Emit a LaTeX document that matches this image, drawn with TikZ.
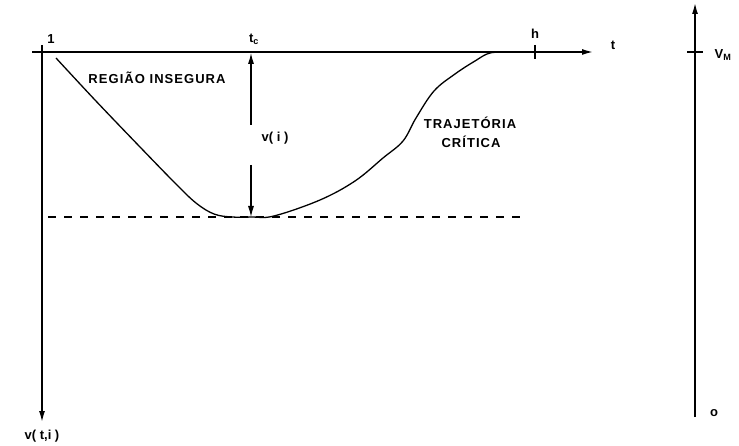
\documentclass[tikz,border=0pt]{standalone}
\usepackage{fontspec}
\setmainfont{Liberation Sans}
\newfontfamily\labfont[LetterSpace=8]{Liberation Sans}
\usetikzlibrary{arrows.meta}
\begin{document}
\begin{tikzpicture}[x=1pt,y=-1pt,
  line width=1.1pt,
  ax/.style={line width=1.4pt},
  tip/.style={-{Latex[length=11pt,width=6pt]}},
  lbl/.style={font=\labfont\fontsize{13}{14}\selectfont\bfseries, inner sep=0pt},
  sml/.style={font=\fontsize{13}{14}\selectfont\bfseries, inner sep=0pt}]
\useasboundingbox (0,0) rectangle (739,446);
% axes
\coordinate (hstart) at (32,52);
\coordinate (hend) at (593,52);
\coordinate (vstart) at (42,45);
\coordinate (vend) at (42,422);
\draw[ax,tip] (hstart) -- (hend);
\draw[ax,tip] (vstart) -- (vend);
% h tick
\coordinate (htop) at (535,45);
\coordinate (hbot) at (535,59);
\draw (htop) -- (hbot);
% right axis
\coordinate (rb) at (695,417);
\coordinate (rt) at (695,3);
\draw[ax,tip] (rb) -- (rt);
\coordinate (rtl) at (687,52);
\coordinate (rtr) at (703,52);
\draw (rtl) -- (rtr);
% dashed level
\coordinate (dl) at (48,217);
\coordinate (dr) at (525,217);
\draw[line width=1.3pt, dash pattern=on 8pt off 8pt] (dl) -- (dr);
% v(i) double arrow
\coordinate (a1) at (251,125);
\coordinate (a2) at (251,53);
\coordinate (a3) at (251,165);
\coordinate (a4) at (251,217);
\draw[tip] (a1) -- (a2);
\draw[tip] (a3) -- (a4);
% critical trajectory
\draw[line width=1.3pt] plot[smooth, tension=0.6] coordinates {
 (56,58) (95,100) (140,147) (175,183) (196,203) (214,214) (232,217) (252,217)
 (274,216) (320,200) (355,181) (383,158) (403,141) (416,118)
 (434,91) (455,74) (475,61) (490,53) (510,52)};
% labels
\node[sml] (one) at (51,39) {1};
\node[sml] (tc) at (254,39) {t\textsubscript{c}};
\node[sml] (hl) at (535,34) {h};
\node[sml] (tl) at (613,45) {t};
\node[sml] (vm) at (723,55) {V\textsubscript{M}};
\node[sml] (zero) at (714,413) {o};
\node[sml] (vti) at (42,436) {v( t,i )};
\node[sml] (vi) at (275,138) {v( i )};
\node[lbl] (reg) at (157,78) {REGIÃO INSEGURA};
\node[lbl] (traj) at (470,123) {TRAJETÓRIA};
\node[lbl] (crit) at (471,142) {CRÍTICA};
\end{tikzpicture}
\end{document}
